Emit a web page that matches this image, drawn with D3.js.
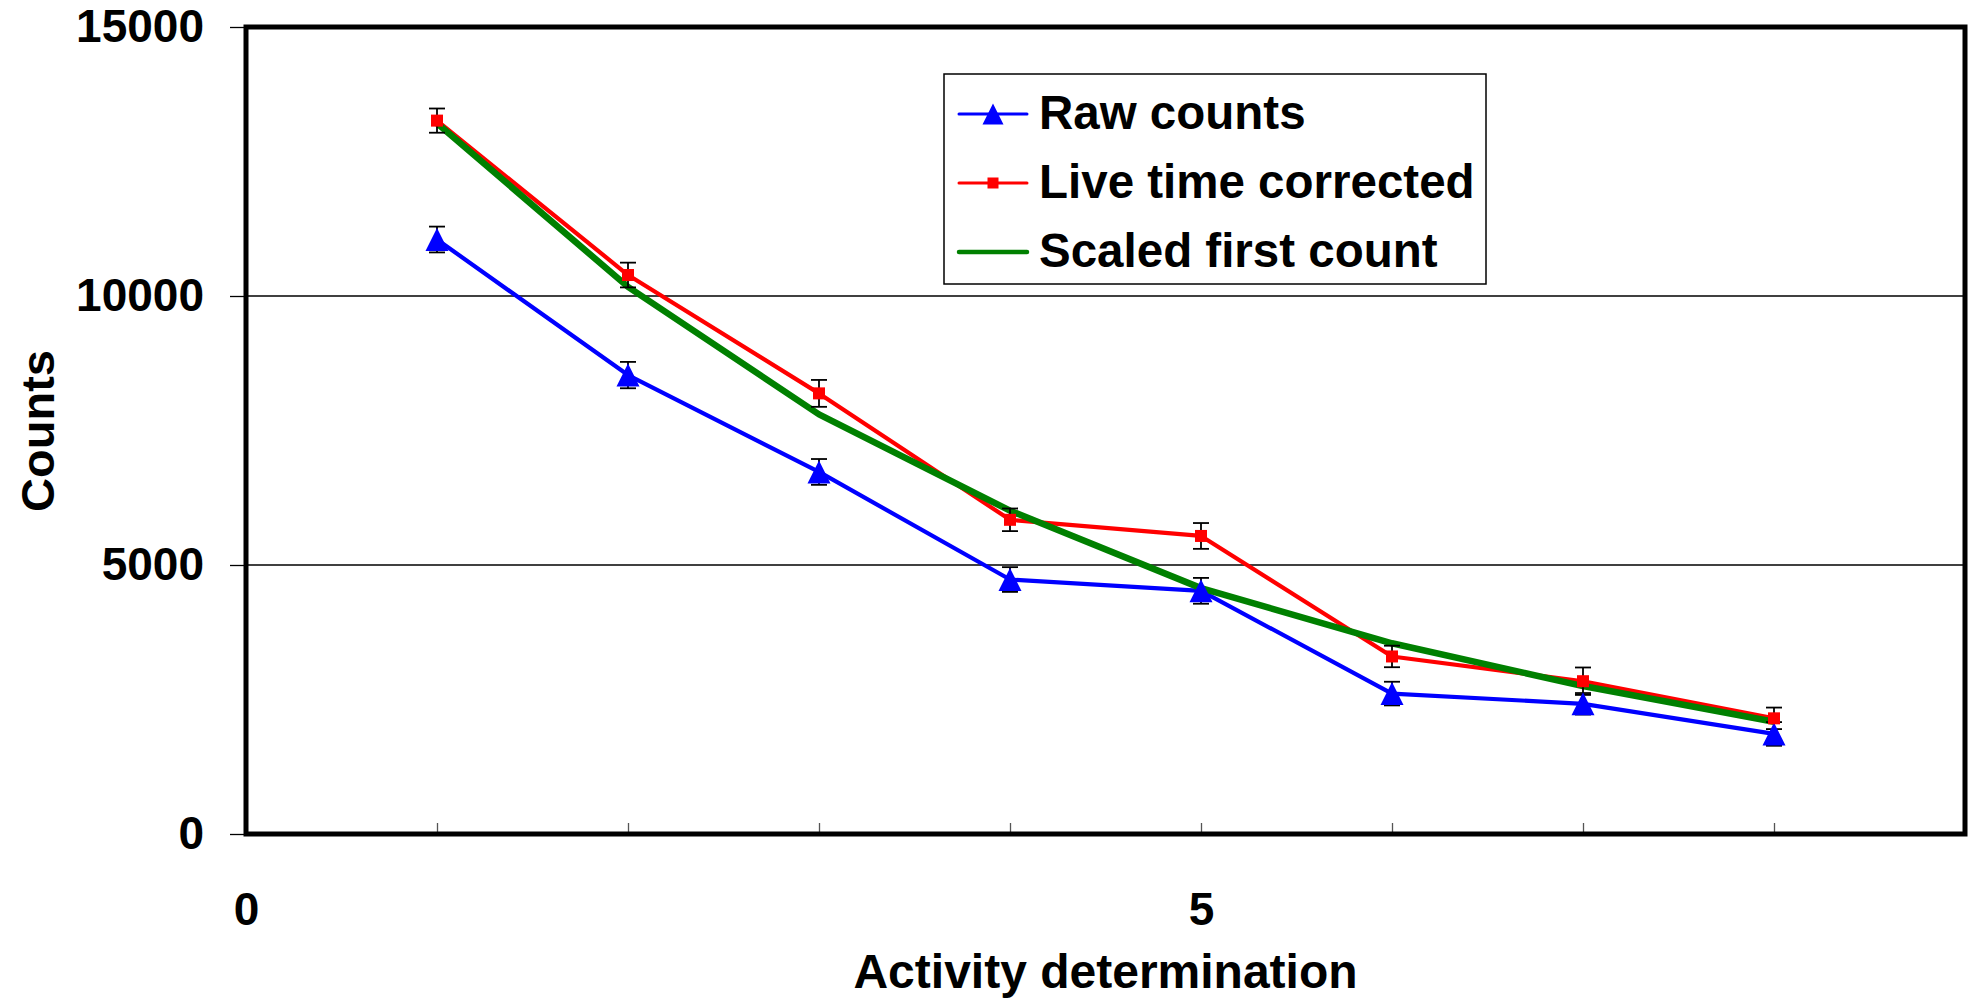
<!DOCTYPE html>
<html>
<head>
<meta charset="utf-8">
<script src="https://cdn.jsdelivr.net/npm/d3@7"></script>
<style>
  html, body { margin: 0; padding: 0; background: #fff; }
  svg { display: block; }
  text { font-family: "Liberation Sans", Arial, sans-serif; font-weight: bold; fill: #000; }
</style>
</head>
<body>
<svg id="chart" width="1971" height="1001"></svg>
<script>
// Activity determinations (x positions)
const determinations = [1, 2, 3, 4, 5, 6, 7, 8];

// Series values (counts)
const rawCounts     = [11050, 8530, 6730, 4730, 4520, 2610, 2420, 1860];
const rawErrors     = [240, 245, 240, 230, 240, 220, 200, 220];
const liveCorrected = [13260, 10390, 8190, 5840, 5540, 3300, 2840, 2150];
const liveErrors    = [225, 230, 250, 210, 240, 200, 255, 200];
const scaledFirst   = [13210, 10170, 7800, 6010, 4570, 3545, 2750, 2087];

// Axis ticks and labels
const yTicks = [0, 5000, 10000, 15000];
const yGrid = [5000, 10000];
const xMinorTicks = [1, 2, 3, 4, 5, 6, 7, 8];
const xLabelTicks = [0, 5];
const seriesNames = ["Raw counts", "Live time corrected", "Scaled first count"];

const svg = d3.select("#chart");
const plotLeft = 246, plotRight = 1965, plotTop = 27, plotBottom = 834;

const x = d3.scaleLinear().domain([0, 9]).range([plotLeft, plotRight]);
const y = d3.scaleLinear().domain([0, 15000]).range([plotBottom, plotTop]);

// Horizontal gridlines
svg.append("g").selectAll("line").data(yGrid).join("line")
  .attr("x1", plotLeft).attr("x2", plotRight)
  .attr("y1", d => y(d)).attr("y2", d => y(d))
  .attr("stroke", "#000").attr("stroke-width", 1.3);

// Y axis: outward ticks and labels
const yAxis = svg.append("g").attr("transform", `translate(${plotLeft},0)`)
  .call(d3.axisLeft(y).tickValues(yTicks).tickSize(16).tickPadding(26).tickFormat(d3.format("d")));
yAxis.select(".domain").remove();
yAxis.selectAll("line").attr("stroke", "#000").attr("stroke-width", 1.3);
yAxis.selectAll("text").style("font-size", "46px");

// X axis: inward minor ticks
const xTicks = svg.append("g").attr("transform", `translate(0,${plotBottom})`)
  .call(d3.axisBottom(x).tickValues(xMinorTicks).tickSizeInner(-11).tickSizeOuter(0).tickFormat(""));
xTicks.select(".domain").remove();
xTicks.selectAll("line").attr("stroke", "#555").attr("stroke-width", 1.3);

// X axis labels
const xLabels = svg.append("g").attr("transform", `translate(0,${plotBottom})`)
  .call(d3.axisBottom(x).tickValues(xLabelTicks).tickSize(0).tickPadding(58).tickFormat(d3.format("d")));
xLabels.select(".domain").remove();
xLabels.selectAll("text").style("font-size", "46px");

// Series lines
const line = vals => d3.line().x((d, i) => x(determinations[i])).y(d => y(d))(vals);
svg.append("path").attr("d", line(rawCounts)).attr("fill", "none")
  .attr("stroke", "#0000ff").attr("stroke-width", 4.2).attr("stroke-linejoin", "round");
svg.append("path").attr("d", line(liveCorrected)).attr("fill", "none")
  .attr("stroke", "#ff0000").attr("stroke-width", 4.2).attr("stroke-linejoin", "round");
svg.append("path").attr("d", line(scaledFirst)).attr("fill", "none")
  .attr("stroke", "#008000").attr("stroke-width", 6.5).attr("stroke-linejoin", "round");

// Error bars
function errorBars(vals, errs) {
  const g = svg.append("g").attr("stroke", "#000").attr("stroke-width", 1.8);
  vals.forEach((v, i) => {
    const cx = x(determinations[i]);
    g.append("line").attr("x1", cx).attr("x2", cx).attr("y1", y(v - errs[i])).attr("y2", y(v + errs[i]));
    [v - errs[i], v + errs[i]].forEach(e => {
      g.append("line").attr("x1", cx - 8).attr("x2", cx + 8).attr("y1", y(e)).attr("y2", y(e));
    });
  });
}
errorBars(rawCounts, rawErrors);
errorBars(liveCorrected, liveErrors);

// Markers
const tri = (cx, cy, s) => `M${cx},${cy - s / 2}L${cx + s / 2},${cy + s / 2}L${cx - s / 2},${cy + s / 2}Z`;
svg.append("g").selectAll("path").data(rawCounts).join("path")
  .attr("d", (d, i) => tri(x(determinations[i]), y(d), 23))
  .attr("fill", "#0000ff");
svg.append("g").selectAll("rect").data(liveCorrected).join("rect")
  .attr("x", (d, i) => x(determinations[i]) - 6).attr("y", d => y(d) - 6)
  .attr("width", 12).attr("height", 12).attr("fill", "#ff0000");

// Plot frame
svg.append("rect").attr("x", plotLeft).attr("y", plotTop)
  .attr("width", plotRight - plotLeft).attr("height", plotBottom - plotTop)
  .attr("fill", "none").attr("stroke", "#000").attr("stroke-width", 5);

// Axis titles
svg.append("text").attr("x", (plotLeft + plotRight) / 2).attr("y", 988)
  .attr("text-anchor", "middle").style("font-size", "48px").text("Activity determination");
svg.append("text").attr("transform", "translate(54,431) rotate(-90)")
  .attr("text-anchor", "middle").style("font-size", "47px").text("Counts");

// Legend
const lg = svg.append("g");
lg.append("rect").attr("x", 944).attr("y", 74).attr("width", 542).attr("height", 210)
  .attr("fill", "#fff").attr("stroke", "#000").attr("stroke-width", 1.5);
const rowsY = [114, 183, 252];
const legendColors = ["#0000ff", "#ff0000", "#008000"];
const legendWidths = [3, 3, 4.5];
seriesNames.forEach((name, i) => {
  lg.append("line").attr("x1", 959).attr("x2", 1027).attr("y1", rowsY[i]).attr("y2", rowsY[i])
    .attr("stroke", legendColors[i]).attr("stroke-width", legendWidths[i]).attr("stroke-linecap", "round");
  lg.append("text").attr("x", 1039).attr("y", rowsY[i] + 15).style("font-size", "47.5px").text(name);
});
lg.append("path").attr("d", tri(993, rowsY[0], 21)).attr("fill", "#0000ff");
lg.append("rect").attr("x", 993 - 5.5).attr("y", rowsY[1] - 5.5).attr("width", 11).attr("height", 11).attr("fill", "#ff0000");
</script>
</body>
</html>
